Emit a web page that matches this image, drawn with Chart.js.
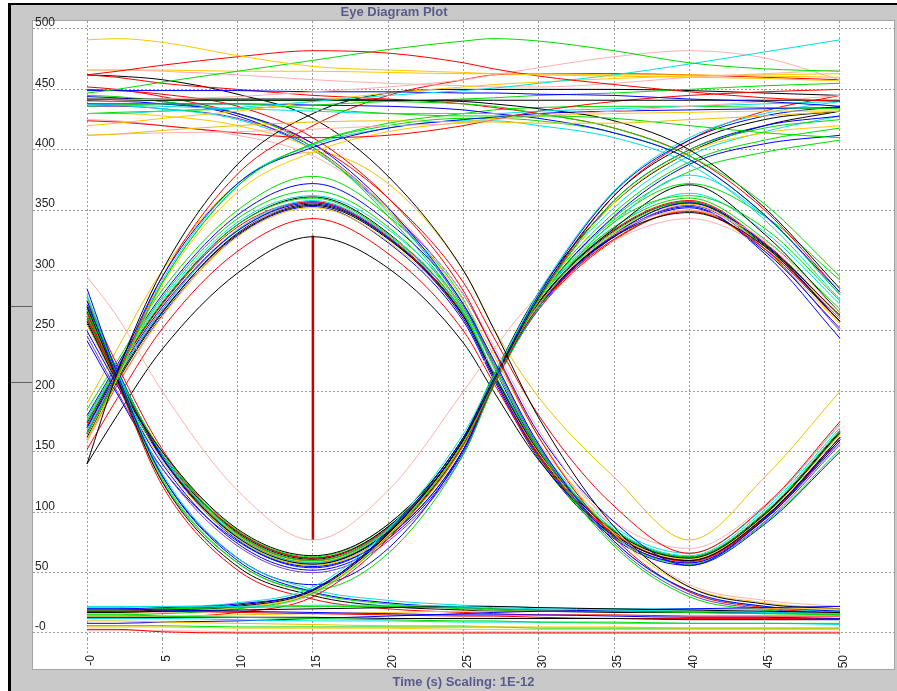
<!DOCTYPE html>
<html>
<head>
<meta charset="utf-8">
<title>Eye Diagram Plot</title>
<script src="https://cdn.jsdelivr.net/npm/chart.js@4.4.1/dist/chart.umd.min.js"></script>
<style>
  html, body { margin: 0; padding: 0; background: #ffffff; }
  #frame {
    position: absolute; left: 8px; top: 3px; width: 886px; height: 686px;
    background: #c9c9c9; border-left: 3px solid #000; border-top: 2px solid #000;
  }
  .split { position: absolute; left: 11px; width: 21px; height: 1px; background: #606060; }
  #eyeCanvas { position: absolute; left: 0; top: 0; }
</style>
</head>
<body>
<div id="frame"></div>
<div class="split" style="top:306px"></div>
<div class="split" style="top:382px"></div>
<canvas id="eyeCanvas" width="897" height="691"></canvas>
<script>
// sample times (ps) shared by every trace
var timePs = [0, 2, 5, 10, 15, 20, 25, 27, 30, 35, 40, 45, 50];
var timeTicks = [0, 5, 10, 15, 20, 25, 30, 35, 40, 45, 50];
var levelTicks = [0, 50, 100, 150, 200, 250, 300, 350, 400, 450, 500];
var plotTitle = "Eye Diagram Plot";
var timeAxisTitle = "Time (s) Scaling: 1E-12";

// eye opening marker
var eyeMarkerTime = [15, 15];
var eyeMarkerLevel = [77, 329];

// traces peaking at 15 ps
var peakTraces = [
    [140, 180, 235, 298, 328, 302, 240, 200, 143, 81, 60, 96, 160],
    [152, 194, 252, 316, 343, 314, 250, 207, 146, 82, 59, 95, 160],
    [165, 210, 266, 330, 354, 326, 262, 214, 150, 84, 62, 98, 166],
    [170, 214, 270, 333, 356, 327, 260, 212, 146, 80, 58, 94, 160],
    [175, 218, 274, 338, 360, 330, 265, 215, 151, 85, 63, 100, 168],
    [168, 212, 268, 334, 358, 329, 264, 214, 151, 86, 64, 102, 170],
    [160, 206, 262, 328, 352, 324, 261, 213, 149, 83, 61, 97, 164],
    [172, 216, 272, 336, 357, 328, 262, 212, 147, 82, 60, 95, 162],
    [158, 204, 262, 330, 356, 330, 268, 220, 157, 92, 70, 106, 172],
    [180, 222, 280, 346, 372, 340, 272, 220, 152, 83, 60, 94, 158],
    [185, 225, 284, 350, 378, 345, 276, 222, 154, 85, 62, 98, 165],
    [162, 208, 265, 331, 355, 327, 263, 215, 151, 85, 63, 99, 167],
    [166, 212, 268, 333, 357, 328, 262, 213, 147, 80, 58, 92, 156],
    [176, 219, 276, 340, 362, 334, 268, 216, 154, 88, 66, 104, 173],
    [190, 235, 300, 372, 398, 372, 300, 252, 195, 129, 77, 129, 200],
    [178, 220, 278, 343, 366, 336, 266, 214, 145, 79, 57, 91, 152],
    [160, 205, 263, 329, 353, 323, 258, 210, 144, 78, 56, 90, 150],
    [174, 217, 273, 338, 361, 331, 264, 214, 148, 82, 60, 96, 162]
];
var peakColors = ["#000000", "#ff0000", "#000000", "#0000ff", "#00dd00", "#00e0e0",
    "#ffc800", "#ff0000", "#ffafaf", "#0000ff", "#00dd00", "#000000", "#7a3cc8",
    "#00e0e0", "#f0c000", "#00dd00", "#0000ff", "#000000"];

// traces with their trough at 15 ps
var troughTraces = [
    [258, 208, 150, 86, 64, 90, 162, 212, 274, 335, 371, 330, 265],
    [250, 205, 140, 74, 52, 78, 150, 206, 270, 330, 356, 322, 258],
    [265, 214, 150, 82, 60, 86, 158, 210, 272, 332, 357, 320, 260],
    [268, 216, 148, 80, 58, 85, 158, 211, 276, 340, 379, 345, 280],
    [260, 210, 148, 84, 62, 87, 160, 212, 270, 326, 349, 318, 258],
    [255, 207, 142, 78, 56, 82, 155, 209, 271, 331, 355, 320, 262],
    [272, 218, 145, 77, 55, 80, 152, 208, 270, 328, 352, 316, 252],
    [266, 214, 145, 79, 57, 84, 156, 210, 273, 333, 357, 322, 262],
    [262, 212, 150, 85, 63, 90, 162, 214, 276, 336, 360, 326, 268],
    [295, 262, 200, 118, 77, 118, 200, 235, 280, 325, 343, 318, 262],
    [275, 222, 152, 82, 60, 86, 158, 211, 274, 334, 358, 323, 262],
    [258, 208, 146, 82, 60, 87, 160, 212, 274, 336, 364, 332, 272],
    [246, 200, 136, 72, 50, 76, 148, 205, 268, 328, 354, 318, 250],
    [262, 211, 147, 83, 61, 88, 160, 212, 272, 330, 356, 321, 263],
    [270, 218, 146, 78, 56, 82, 155, 210, 276, 342, 372, 345, 292],
    [242, 198, 136, 76, 54, 80, 152, 207, 270, 329, 353, 314, 244],
    [264, 213, 147, 81, 59, 85, 157, 210, 270, 326, 350, 316, 256],
    [268, 215, 146, 80, 58, 84, 156, 209, 268, 325, 350, 318, 258],
    [260, 210, 146, 82, 60, 86, 158, 212, 280, 352, 395, 415, 428],
    [266, 214, 146, 80, 58, 84, 156, 210, 278, 348, 390, 408, 418],
    [256, 207, 146, 84, 62, 88, 160, 213, 282, 356, 398, 420, 432],
    [262, 211, 144, 79, 57, 83, 155, 209, 276, 345, 388, 405, 412],
    [270, 217, 147, 81, 59, 85, 157, 211, 277, 344, 382, 398, 408]
];
var troughColors = ["#000000", "#0000ff", "#00dd00", "#00e0e0", "#ff0000", "#ffc800",
    "#0000ff", "#000000", "#00dd00", "#ffafaf", "#ff0000", "#00e0e0", "#7a3cc8",
    "#000000", "#00dd00", "#0000ff", "#ffc800", "#ff0000", "#00e0e0", "#00dd00",
    "#000000", "#0000ff", "#00dd00"];

// rising through the first crossing, staying high
var riseEarlyTraces = [
    [140, 215, 300, 388, 430, 447, 450, 450, 450, 450, 449, 447, 445],
    [165, 212, 290, 370, 405, 422, 430, 433, 435, 436, 436, 435, 434],
    [170, 218, 295, 372, 402, 418, 425, 427, 430, 432, 433, 434, 435],
    [160, 210, 288, 365, 398, 415, 423, 426, 428, 430, 431, 432, 432],
    [165, 214, 295, 380, 420, 445, 458, 462, 463, 463, 462, 460, 458],
    [165, 212, 290, 370, 405, 420, 426, 426, 424, 414, 392, 346, 280],
    [168, 214, 292, 372, 404, 418, 424, 424, 420, 410, 388, 342, 276]
];
var riseEarlyColors = ["#000000", "#00dd00", "#0000ff", "#ffc800", "#ff0000", "#00dd00", "#00e0e0"];

// high, falling late in the window
var fallLateTraces = [
    [440, 440, 441, 441, 441, 440, 438, 436, 430, 418, 395, 355, 295],
    [442, 442, 442, 442, 442, 441, 440, 438, 434, 424, 400, 352, 285],
    [438, 438, 438, 438, 437, 436, 433, 430, 426, 414, 392, 346, 282],
    [462, 460, 455, 450, 445, 442, 438, 435, 430, 418, 395, 350, 282]
];
var fallLateColors = ["#00dd00", "#000000", "#0000ff", "#ff0000"];

// high, falling through the middle crossing
var fallMidTraces = [
    [462, 461, 458, 446, 426, 378, 300, 252, 178, 88, 38, 24, 20],
    [440, 440, 438, 430, 405, 352, 272, 226, 156, 76, 35, 22, 18],
    [450, 449, 446, 436, 410, 360, 283, 234, 162, 79, 34, 21, 16],
    [430, 430, 428, 420, 400, 350, 275, 230, 162, 82, 38, 25, 20],
    [445, 444, 440, 430, 402, 345, 268, 222, 152, 72, 30, 19, 15],
    [438, 437, 434, 425, 400, 348, 272, 226, 156, 76, 34, 22, 17],
    [425, 424, 420, 412, 395, 352, 280, 238, 168, 86, 40, 27, 22],
    [436, 436, 434, 426, 402, 350, 270, 224, 154, 74, 32, 20, 16],
    [452, 450, 444, 430, 405, 360, 290, 245, 180, 105, 66, 105, 175],
    [444, 443, 440, 428, 400, 350, 280, 235, 165, 92, 56, 95, 162]
];
var fallMidColors = ["#000000", "#0000ff", "#ff0000", "#ffc800", "#00dd00", "#00e0e0",
    "#ffafaf", "#7a3cc8", "#ff0000", "#0000ff"];

// low, rising through the middle crossing
var riseMidTraces = [
    [18, 18, 19, 22, 35, 82, 160, 208, 278, 362, 405, 425, 432],
    [20, 20, 21, 24, 36, 84, 162, 210, 280, 365, 408, 428, 436],
    [15, 15, 16, 20, 33, 80, 158, 207, 276, 358, 400, 418, 425],
    [22, 22, 22, 25, 38, 86, 165, 212, 282, 366, 410, 430, 440],
    [12, 12, 13, 17, 30, 78, 156, 205, 276, 362, 408, 432, 445],
    [17, 17, 18, 21, 34, 81, 158, 207, 275, 356, 398, 414, 420],
    [16, 16, 17, 20, 32, 80, 158, 208, 272, 330, 350, 325, 265],
    [19, 19, 20, 23, 36, 83, 160, 210, 272, 328, 348, 320, 258]
];
var riseMidColors = ["#000000", "#0000ff", "#00dd00", "#00e0e0", "#ff0000", "#ffc800", "#ffafaf", "#000000"];

// falling through the first crossing
var fallEarlyTraces = [
    [285, 215, 130, 60, 34, 25, 21, 20, 19, 18, 18, 17, 17],
    [270, 210, 125, 55, 31, 22, 19, 18, 18, 17, 17, 17, 16],
    [278, 214, 128, 58, 33, 24, 20, 19, 18, 18, 17, 16, 16],
    [265, 208, 122, 52, 28, 20, 17, 16, 15, 15, 14, 14, 14],
    [280, 216, 132, 62, 36, 27, 23, 22, 21, 20, 20, 19, 19],
    [275, 212, 130, 62, 40, 70, 152, 207, 276, 358, 400, 420, 428],
    [268, 210, 126, 58, 36, 66, 148, 204, 270, 340, 362, 335, 275]
];
var fallEarlyColors = ["#0000ff", "#000000", "#00dd00", "#ff0000", "#00e0e0", "#0000ff", "#00dd00"];

// steady high level
var highTraces = [
    [491, 492, 489, 478, 469, 466, 464, 463, 462, 461, 460, 459, 457],
    [462, 465, 470, 477, 482, 480, 472, 467, 461, 454, 448, 443, 440],
    [447, 450, 456, 465, 474, 483, 490, 492, 490, 482, 472, 467, 465],
    [430, 430, 432, 435, 440, 445, 449, 451, 455, 462, 471, 481, 491],
    [440, 441, 442, 444, 448, 452, 458, 462, 468, 477, 482, 476, 458],
    [449, 449, 449, 449, 448, 448, 447, 447, 446, 445, 442, 440, 436],
    [441, 441, 441, 441, 441, 441, 441, 441, 441, 441, 441, 441, 441],
    [420, 422, 426, 432, 440, 447, 452, 454, 456, 459, 461, 462, 463],
    [412, 413, 416, 420, 423, 424, 423, 423, 422, 422, 425, 428, 432],
    [436, 437, 438, 438, 434, 430, 428, 428, 428, 426, 420, 414, 410],
    [412, 413, 414, 415, 417, 420, 422, 425, 428, 432, 436, 440, 445],
    [466, 466, 465, 462, 458, 455, 453, 452, 452, 455, 460, 463, 466],
    [437, 437, 436, 434, 432, 430, 430, 430, 432, 434, 436, 438, 440],
    [430, 431, 432, 434, 437, 440, 442, 443, 445, 447, 450, 453, 455],
    [424, 423, 420, 414, 410, 412, 420, 425, 432, 440, 445, 448, 450],
    [466, 466, 466, 465, 465, 464, 463, 463, 463, 462, 462, 461, 460]
];
var highColors = ["#ffc800", "#ff0000", "#00dd00", "#00e0e0", "#ffafaf", "#0000ff",
    "#000000", "#ffc800", "#f0c000", "#00dd00", "#ffafaf", "#ffafaf", "#00e0e0",
    "#00dd00", "#ff0000", "#ffc800"];

// steady low level
var lowTraces = [
    [21, 21, 22, 22, 23, 23, 22, 21, 20, 19, 18, 17, 16],
    [20, 20, 19, 18, 17, 16, 15, 15, 15, 14, 13, 13, 12],
    [17, 17, 18, 19, 20, 21, 22, 22, 21, 20, 19, 18, 17],
    [15, 15, 14, 13, 12, 11, 10, 10, 9, 9, 8, 8, 8],
    [3, 3, 1, 0, 0, 0, 0, 0, 0, 0, 0, 0, 0],
    [5, 5, 5, 4, 4, 4, 3, 3, 3, 3, 3, 3, 3],
    [10, 10, 9, 8, 7, 6, 6, 5, 5, 5, 4, 4, 4],
    [2, 2, 2, 1, 1, 1, 1, 1, 1, 1, 1, 1, 1],
    [12, 12, 12, 11, 10, 10, 9, 9, 9, 8, 8, 8, 7],
    [8, 8, 9, 10, 12, 14, 16, 17, 18, 19, 20, 21, 22],
    [6, 6, 6, 5, 5, 5, 5, 5, 4, 4, 4, 4, 4],
    [13, 13, 13, 13, 13, 12, 12, 12, 12, 12, 11, 11, 11],
    [18, 18, 18, 17, 16, 15, 14, 14, 13, 12, 12, 12, 12],
    [14, 14, 14, 15, 16, 17, 18, 18, 18, 19, 19, 20, 20],
    [19, 19, 20, 21, 22, 22, 21, 20, 19, 18, 17, 16, 15]
];
var lowColors = ["#00e0e0", "#0000ff", "#000000", "#00dd00", "#ff0000", "#ffc800",
    "#f0c000", "#ffafaf", "#00e0e0", "#0000ff", "#00dd00", "#000000", "#ff0000",
    "#ffc800", "#00dd00"];

function traceSets(traces, colors) {
    return traces.map(function (values, i) {
        return {
            data: values,
            borderColor: colors[i % colors.length],
            borderWidth: 1,
            fill: false
        };
    });
}

var datasets = [].concat(
    traceSets(highTraces, highColors),
    traceSets(lowTraces, lowColors),
    traceSets(fallLateTraces, fallLateColors),
    traceSets(riseEarlyTraces, riseEarlyColors),
    traceSets(fallMidTraces, fallMidColors),
    traceSets(riseMidTraces, riseMidColors),
    traceSets(fallEarlyTraces, fallEarlyColors),
    traceSets(troughTraces, troughColors),
    traceSets(peakTraces, peakColors)
);

datasets.push({
    data: eyeMarkerTime.map(function (t, i) { return { x: t, y: eyeMarkerLevel[i] }; }),
    borderColor: "#cc0000",
    borderWidth: 2.5,
    cubicInterpolationMode: "default",
    tension: 0
});

var gridGray = "#9a9a9a";
var titleColor = "#5a5a8c";

var plotBackground = {
    id: "plotBackground",
    beforeDraw: function (chart) {
        var ctx = chart.ctx, a = chart.chartArea;
        var bottom = chart.scales.x.bottom - 21;
        ctx.save();
        ctx.fillStyle = "#ffffff";
        ctx.fillRect(a.left, a.top, a.right - a.left, bottom - a.top);
        ctx.strokeStyle = "#a4a4a4";
        ctx.lineWidth = 1;
        ctx.strokeRect(a.left - 0.5, a.top - 0.5, a.right - a.left + 1, bottom - a.top + 1);
        ctx.restore();
    },
    afterDraw: function (chart) {
        var ctx = chart.ctx;
        ctx.save();
        ctx.font = "bold 13px 'Liberation Sans', Arial, sans-serif";
        ctx.fillStyle = titleColor;
        ctx.textAlign = "center";
        ctx.textBaseline = "middle";
        ctx.fillText(plotTitle, 394, 12);
        ctx.restore();
    }
};

new Chart(document.getElementById("eyeCanvas"), {
    type: "line",
    data: {
        labels: timePs,
        datasets: datasets
    },
    plugins: [plotBackground],
    options: {
        responsive: false,
        animation: false,
        devicePixelRatio: 1,
        layout: { padding: { left: 33, right: 3, top: 21, bottom: 1 } },
        elements: {
            point: { radius: 0 },
            line: { cubicInterpolationMode: "monotone" }
        },
        plugins: {
            legend: { display: false },
            tooltip: { enabled: false },
            title: { display: false }
        },
        scales: {
            x: {
                type: "linear",
                min: -3.586,
                max: 53.586,
                afterBuildTicks: function (scale) {
                    scale.ticks = timeTicks.map(function (v) { return { value: v }; });
                },
                afterFit: function (scale) { scale.height = 51; },
                grid: {
                    color: gridGray,
                    tickBorderDash: [2, 2],
                    tickColor: gridGray,
                    tickLength: 15
                },
                border: { display: false, dash: [2, 2] },
                ticks: {
                    autoSkip: false,
                    minRotation: 90,
                    maxRotation: 90,
                    padding: 1,
                    labelOffset: 4,
                    color: "#222222",
                    font: { family: "'Liberation Sans', Arial, sans-serif", size: 12 },
                    callback: function (v) { return v === 0 ? "-0" : String(v); }
                },
                title: {
                    display: true,
                    text: timeAxisTitle,
                    color: titleColor,
                    padding: { top: 0, bottom: 0 },
                    font: { family: "'Liberation Sans', Arial, sans-serif", size: 13, weight: "bold" }
                }
            },
            y: {
                min: -4.97,
                max: 506.6,
                afterBuildTicks: function (scale) {
                    scale.ticks = levelTicks.map(function (v) { return { value: v }; });
                },
                afterFit: function (scale) { scale.width = 0; },
                grid: {
                    color: gridGray,
                    drawTicks: false
                },
                border: { display: false, dash: [2, 2] },
                ticks: {
                    mirror: true,
                    padding: 2,
                    labelOffset: -6,
                    color: "#222222",
                    font: { family: "'Liberation Sans', Arial, sans-serif", size: 12 },
                    callback: function (v) { return v === 0 ? "-0" : String(v); }
                }
            }
        }
    }
});
</script>
</body>
</html>
